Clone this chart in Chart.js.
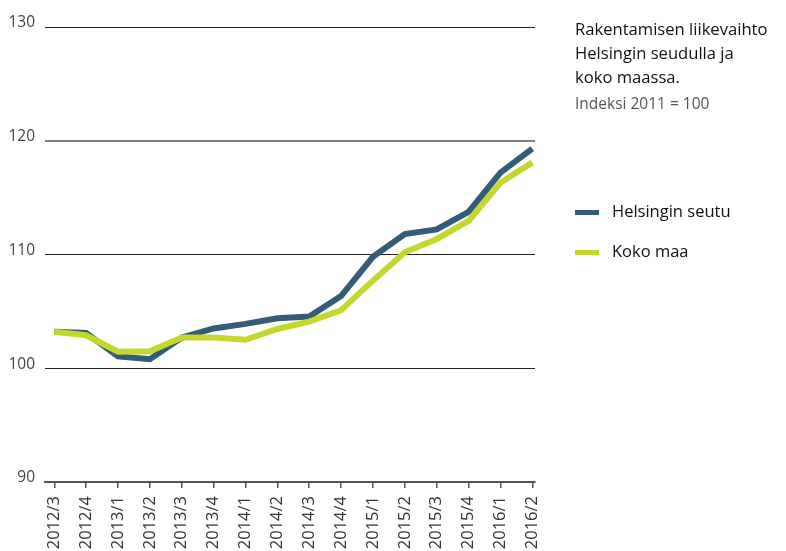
<!DOCTYPE html>
<html>
<head>
<meta charset="utf-8">
<script src="https://cdn.jsdelivr.net/npm/chart.js@4.4.0/dist/chart.umd.min.js"></script>
<style>
  html, body { margin: 0; padding: 0; background: #fff; }
  .wrap { position: relative; width: 786px; height: 551px; font-family: 'Open Sans', sans-serif; }
  canvas { position: absolute; left: 0; top: 0; }
  .title { position: absolute; left: 575px; top: 17px; font-size: 16.6px; line-height: 24px; color: #111; font-weight: 500; }
  .sub { position: absolute; left: 575px; top: 92px; font-size: 15.5px; color: #555; }
  .legend { position: absolute; left: 575px; font-size: 16.5px; color: #111; line-height: 20px; font-weight: 500; }
  .legend i { display: inline-block; width: 24px; height: 5px; vertical-align: middle; margin-right: 13px; }
</style>
</head>
<body>
<div class="wrap">
  <canvas id="chart" width="786" height="551"></canvas>
  <div class="title">Rakentamisen liikevaihto<br>Helsingin seudulla ja<br>koko maassa.</div>
  <div class="sub">Indeksi 2011 = 100</div>
  <div class="legend" style="top:201px"><i style="background:#325c77"></i>Helsingin seutu</div>
  <div class="legend" style="top:241px"><i style="background:#c4d82c"></i>Koko maa</div>
</div>
<script>
const quarters = ['2012/3', '2012/4', '2013/1', '2013/2', '2013/3', '2013/4', '2014/1', '2014/2',
  '2014/3', '2014/4', '2015/1', '2015/2', '2015/3', '2015/4', '2016/1', '2016/2'];
const helsinginSeutu = [103.2, 103.1, 101.05, 100.8, 102.7, 103.5, 103.9, 104.4,
  104.55, 106.35, 109.8, 111.8, 112.2, 113.75, 117.2, 119.3];
const kokoMaa = [103.2, 102.9, 101.45, 101.5, 102.7, 102.7, 102.5, 103.45,
  104.1, 105.1, 107.7, 110.2, 111.35, 112.95, 116.3, 118.1];
const yTicks = [90, 100, 110, 120, 130];

const toPoints = vals => vals.map((v, i) => ({ x: i, y: v }));

new Chart(document.getElementById('chart'), {
  type: 'line',
  data: {
    datasets: [
      { label: 'Koko maa', data: toPoints(kokoMaa), borderColor: '#c4d82c', borderWidth: 6, pointRadius: 0, tension: 0, borderJoinStyle: 'miter' },
      { label: 'Helsingin seutu', data: toPoints(helsinginSeutu), borderColor: '#325c77', borderWidth: 6, pointRadius: 0, tension: 0, borderJoinStyle: 'miter' }
    ]
  },
  options: {
    responsive: false,
    animation: false,
    layout: { padding: { top: 27, right: 251, left: 0, bottom: 0 } },
    plugins: { legend: { display: false }, tooltip: { enabled: false } },
    scales: {
      x: {
        type: 'linear',
        min: -0.292,
        max: 15.085,
        afterBuildTicks: axis => { axis.ticks = quarters.map((q, i) => ({ value: i })); },
        afterFit: axis => { axis.height = 69; },
        ticks: {
          callback: v => quarters[v],
          minRotation: 90,
          maxRotation: 90,
          autoSkip: false,
          padding: 8,
          color: '#333',
          font: { family: 'Open Sans', size: 16.5 }
        },
        grid: { drawOnChartArea: false, tickLength: 6, color: '#555', lineWidth: 1.5 },
        border: { display: true, color: '#555', width: 2 }
      },
      y: {
        min: 90,
        max: 130,
        afterBuildTicks: axis => { axis.ticks = yTicks.map(v => ({ value: v })); },
        afterFit: axis => { axis.width = 45; },
        ticks: {
          color: '#444',
          padding: 10,
          labelOffset: -4,
          font: { family: 'Open Sans', size: 15.5 }
        },
        grid: {
          drawTicks: false,
          color: ctx => ctx.tick.value === 90 ? 'rgba(0,0,0,0)' : (ctx.tick.value === 120 ? '#808080' : '#222'),
          lineWidth: ctx => ctx.tick.value === 120 ? 2 : 1
        },
        border: { display: false }
      }
    }
  }
});
</script>
</body>
</html>
